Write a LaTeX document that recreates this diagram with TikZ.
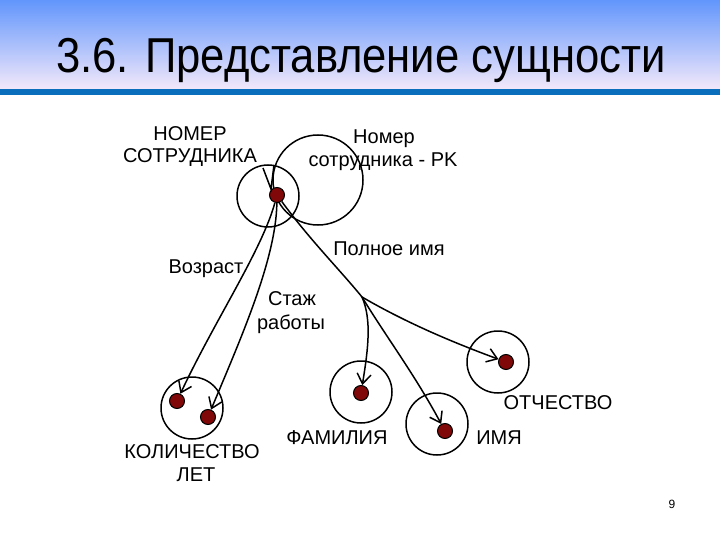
\documentclass[tikz,border=0pt]{standalone}
\usepackage{fontspec}
\setmainfont{Liberation Sans}
\usetikzlibrary{arrows.meta}
\definecolor{dotred}{RGB}{128,8,8}
\definecolor{topblue}{RGB}{98,150,252}
\definecolor{botlav}{RGB}{242,232,250}
\definecolor{barblue}{RGB}{10,110,188}
\tikzset{
  ring/.style={draw, circle, line width=1.5pt, minimum size=62pt, inner sep=0pt},
  bigring/.style={ring, minimum size=90pt},
  dot/.style={draw, circle, fill=dotred, line width=1pt, minimum size=15pt, inner sep=0pt},
  lbl/.style={anchor=base, inner sep=0pt, font=\fontsize{20}{22}\selectfont},
  arr/.style={line width=1.5pt, -{Straight Barb[length=10pt,width=14pt,line width=1.5pt]}},
  link/.style={line width=1.5pt}
}
\begin{document}
\begin{tikzpicture}[x=1pt,y=-1pt]
\useasboundingbox (0,0) rectangle (720,540);
\fill[white] (0,0) rectangle (720,540);
% header
\shade[top color=topblue, bottom color=botlav] (0,0) rectangle (720,89);
\fill[barblue] (0,89) rectangle (720,95);
\node[anchor=base, inner sep=0pt, font=\fontsize{49}{52}\selectfont] (title) at (361,73) {\scalebox{0.89}[1]{3.6. Представление сущности}};
% rings
\node[ring] (c0) at (268,196) {};
\node[bigring] (cpk) at (318,180) {};
\node[ring] (ck) at (192,408) {};
\node[ring] (cf) at (361,392) {};
\node[ring] (ci) at (437,424) {};
\node[ring] (co) at (498,362) {};
% dots
\node[dot] (d0) at (277,195) {};
\node[dot] (dk1) at (177,401) {};
\node[dot] (dk2) at (208,417) {};
\node[dot] (df) at (361,393) {};
\node[dot] (di) at (445,431) {};
\node[dot] (do) at (506,362) {};
\coordinate (br) at (362,297);
% labels
\node[lbl] (l1a) at (190,141) {НОМЕР};
\node[lbl] (l1b) at (190,163) {СОТРУДНИКА};
\node[lbl] (l2a) at (384,144) {Номер};
\node[lbl] (l2b) at (383,167) {сотрудника - PK};
\node[lbl] (l3) at (389,255) {Полное имя};
\node[lbl] (l4) at (206,273) {Возраст};
\node[lbl] (l5a) at (292,305) {Стаж};
\node[lbl] (l5b) at (291,329) {работы};
\node[lbl] (l6) at (337,444) {ФАМИЛИЯ};
\node[lbl] (l7) at (499,444) {ИМЯ};
\node[lbl] (l8) at (558,409) {ОТЧЕСТВО};
\node[lbl] (l9a) at (192,458) {КОЛИЧЕСТВО};
\node[lbl] (l9b) at (196,481) {ЛЕТ};
\node[anchor=base, inner sep=0pt, font=\fontsize{12}{14}\selectfont] (pg) at (672,508) {9};
% arrow head near key dot
\coordinate (b1) at (263,168);
\coordinate (b2) at (274,165);
\coordinate (bt) at (271,189);
\draw[link] (b1) -- (bt) -- (b2);
% connectors
\draw[arr] (d0) .. controls (262,250) and (215,320) .. (dk1);
\draw[arr] (d0) .. controls (276,260) and (240,340) .. (dk2);
\draw[link] (d0) .. controls (310,240) and (340,270) .. (br);
\draw[arr] (br) .. controls (372,320) and (368,350) .. (df);
\draw[arr] (br) .. controls (385,335) and (415,375) .. (di);
\draw[arr] (br) .. controls (410,325) and (460,345) .. (do);
\end{tikzpicture}
\end{document}
